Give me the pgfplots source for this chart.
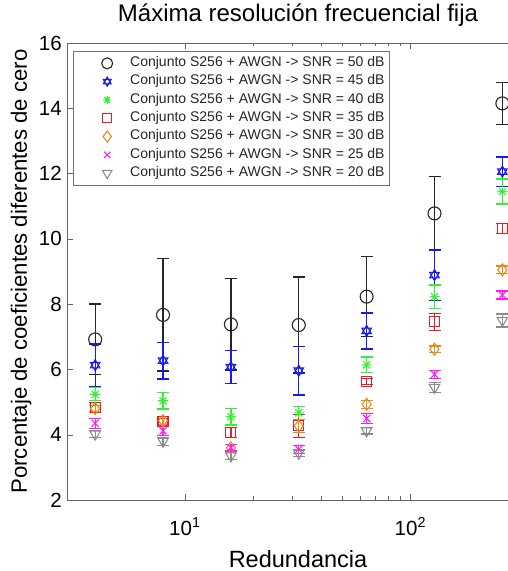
\documentclass[border=0pt]{standalone}
\usepackage{pgfplots}
\pgfplotsset{compat=1.18}
\usepackage{fontspec}
\setmainfont{Liberation Sans}
\definecolor{cblack}{rgb}{0.15,0.15,0.15}
\definecolor{cblue}{rgb}{0.1,0.1,0.95}
\definecolor{cgreen}{rgb}{0.2,0.95,0.2}
\definecolor{cred}{rgb}{0.95,0.1,0.15}
\definecolor{corange}{rgb}{0.9,0.55,0.1}
\definecolor{cmag}{rgb}{1,0.1,1}
\definecolor{cgray}{rgb}{0.55,0.55,0.55}
\pgfdeclareplotmark{hexagram}{%
  \pgfpathmoveto{\pgfqpointpolar{90}{\pgfplotmarksize}}%
  \pgfpathlineto{\pgfqpointpolar{210}{\pgfplotmarksize}}%
  \pgfpathlineto{\pgfqpointpolar{330}{\pgfplotmarksize}}%
  \pgfpathclose
  \pgfpathmoveto{\pgfqpointpolar{270}{\pgfplotmarksize}}%
  \pgfpathlineto{\pgfqpointpolar{30}{\pgfplotmarksize}}%
  \pgfpathlineto{\pgfqpointpolar{150}{\pgfplotmarksize}}%
  \pgfpathclose
  \pgfusepathqstroke}
\pgfdeclareplotmark{mstar}{%
  \pgfpathmoveto{\pgfqpoint{-\pgfplotmarksize}{0pt}}\pgfpathlineto{\pgfqpoint{\pgfplotmarksize}{0pt}}%
  \pgfpathmoveto{\pgfqpoint{0pt}{-\pgfplotmarksize}}\pgfpathlineto{\pgfqpoint{0pt}{\pgfplotmarksize}}%
  \pgfpathmoveto{\pgfqpointpolar{45}{\pgfplotmarksize}}\pgfpathlineto{\pgfqpointpolar{225}{\pgfplotmarksize}}%
  \pgfpathmoveto{\pgfqpointpolar{135}{\pgfplotmarksize}}\pgfpathlineto{\pgfqpointpolar{315}{\pgfplotmarksize}}%
  \pgfusepathqstroke}
\pgfplotsset{
  eb/.style={only marks, forget plot, color=#1, line width=1.1pt, mark options={solid, line width=1.1pt},
    error bars/y dir=both, error bars/y explicit,
    error bars/error bar style={line width=1.3pt, color=#1},
    error bars/error mark options={rotate=90, mark size=6pt, line width=1.3pt, color=#1}},
}
\begin{document}
\begin{tikzpicture}
\useasboundingbox (0,0) rectangle (508pt,571pt);
\clip (0,0) rectangle (508pt,571pt);
\begin{axis}[
  scale only axis, width=462pt, height=457pt,
  at={(67pt,71pt)}, anchor=south west,
  xmode=log, xmin=3, xmax=336, ymin=2, ymax=16,
  ytick={2,4,...,16}, xtick={10,100},
  xticklabels={10\textsuperscript{1},10\textsuperscript{2}},
  /pgf/number format/assume math mode=true,
  tick align=inside, major tick length=6pt, minor tick length=3.5pt,
  axis line style={black!60}, tick style={black!60},
  tick label style={font=\fontsize{20.5}{22}\selectfont},
  yticklabel style={inner sep=0pt, xshift=-5pt},
  xticklabel style={anchor=base, inner sep=0pt, yshift=-35pt},
  title={Máxima resolución frecuencial fija},
  title style={at={(axis description cs:0.5,1.034)}, anchor=base, font=\fontsize{24}{26}\selectfont},
  xlabel={Redundancia},
  xlabel style={at={(axis description cs:0.5,-0.1466)}, anchor=base, font=\fontsize{23.5}{26}\selectfont},
  ylabel={Porcentaje de coeficientes diferentes de cero},
  ylabel style={at={(axis description cs:-0.0866,0.5)}, anchor=base, font=\fontsize{22.2}{26}\selectfont},
  legend image code/.code={\node[inner sep=0pt, minimum width=52pt, minimum height=2pt, text height=0pt, text depth=0pt, anchor=center, draw=none, fill=none] at (-5pt,0pt) {};
    \draw[#1, /tikz/only marks, mark indices={2}] plot coordinates {(-31pt,0pt) (0pt,0pt) (21pt,0pt)};},
  legend style={at={(axis description cs:0.013,0.9825)}, anchor=north west,
    draw=black!55, fill=white, inner sep=3pt, row sep=0pt,
    font=\fontsize{14}{16}\selectfont, text=black!85,
    nodes={inner sep=2pt, text height=10.5pt, text depth=3.8pt},
    cells={anchor=west}},
]
\addlegendimage{color=cblack, mark=o, mark size=5.5pt, line width=1.1pt, mark options={solid}}
\addlegendentry{Conjunto S256 + AWGN -> SNR = 50 dB}
\addlegendimage{color=cblue, mark=hexagram, mark size=4.5pt, line width=1.1pt, mark options={solid}}
\addlegendentry{Conjunto S256 + AWGN -> SNR = 45 dB}
\addlegendimage{color=cgreen, mark=mstar, mark size=4pt, line width=1.1pt, mark options={solid}}
\addlegendentry{Conjunto S256 + AWGN -> SNR = 40 dB}
\addlegendimage{color=cred, mark=square, mark size=4.5pt, line width=1.1pt, mark options={solid}}
\addlegendentry{Conjunto S256 + AWGN -> SNR = 35 dB}
\addlegendimage{color=corange, mark=diamond, mark size=5.5pt, line width=1.1pt, mark options={solid}}
\addlegendentry{Conjunto S256 + AWGN -> SNR = 30 dB}
\addlegendimage{color=cmag, mark=x, mark size=4.5pt, line width=1.1pt, mark options={solid}}
\addlegendentry{Conjunto S256 + AWGN -> SNR = 25 dB}
\addlegendimage{color=cgray, mark=triangle, mark size=5.5pt, line width=1.1pt, mark options={solid, rotate=180}}
\addlegendentry{Conjunto S256 + AWGN -> SNR = 20 dB}
\addplot[eb=cblack, mark=o, mark size=6.5pt] coordinates {
 (4,6.92) +- (0,1.08) (8,7.67) +- (0,1.72) (16,7.38) +- (0,1.40) (32,7.36) +- (0,1.47)
 (64,8.23) +- (0,1.23) (128,10.78) +- (0,1.12) (256,14.15) +- (0,0.65)};
\addplot[eb=cblue, mark=hexagram, mark size=5.5pt] coordinates {
 (4,6.13) +- (0,0.65) (8,6.27) +- (0,0.56) (16,6.07) +- (0,0.51) (32,5.96) +- (0,0.74)
 (64,7.18) +- (0,0.55) (128,8.89) +- (0,0.77) (256,12.06) +- (0,0.45)};
\addplot[eb=cgreen, mark=mstar, mark size=5pt] coordinates {
 (4,5.24) +- (0,0.20) (8,5.04) +- (0,0.25) (16,4.55) +- (0,0.25) (32,4.67) +- (0,0.20)
 (64,6.14) +- (0,0.24) (128,8.23) +- (0,0.36) (256,11.45) +- (0,0.38)};
\addplot[eb=cred, mark=square, mark size=5pt] coordinates {
 (4,4.83) +- (0,0.15) (8,4.40) +- (0,0.10) (16,4.07) +- (0,0.16) (32,4.27) +- (0,0.35)
 (64,5.63) +- (0,0.10) (128,7.46) +- (0,0.26) (256,10.32) +- (0,0.15)};
\addplot[eb=corange, mark=diamond, mark size=6pt] coordinates {
 (4,4.80) +- (0,0.10) (8,4.43) +- (0,0.12) (16,3.60) +- (0,0.10) (32,4.27) +- (0,0.20)
 (64,4.93) +- (0,0.12) (128,6.62) +- (0,0.10) (256,9.05) +- (0,0.12)};
\addplot[eb=cmag, mark=x, mark size=5pt] coordinates {
 (4,4.35) +- (0,0.15) (8,4.12) +- (0,0.15) (16,3.60) +- (0,0.10) (32,3.55) +- (0,0.12)
 (64,4.50) +- (0,0.15) (128,5.85) +- (0,0.12) (256,8.28) +- (0,0.12)};
\addplot[eb=cgray, mark=triangle, mark size=6pt, mark options={rotate=180, solid, line width=1.1pt}] coordinates {
 (4,4.02) +- (0,0.10) (8,3.80) +- (0,0.12) (16,3.35) +- (0,0.10) (32,3.43) +- (0,0.10)
 (64,4.12) +- (0,0.10) (128,5.45) +- (0,0.15) (256,7.50) +- (0,0.20)};
\end{axis}
\end{tikzpicture}
\end{document}
